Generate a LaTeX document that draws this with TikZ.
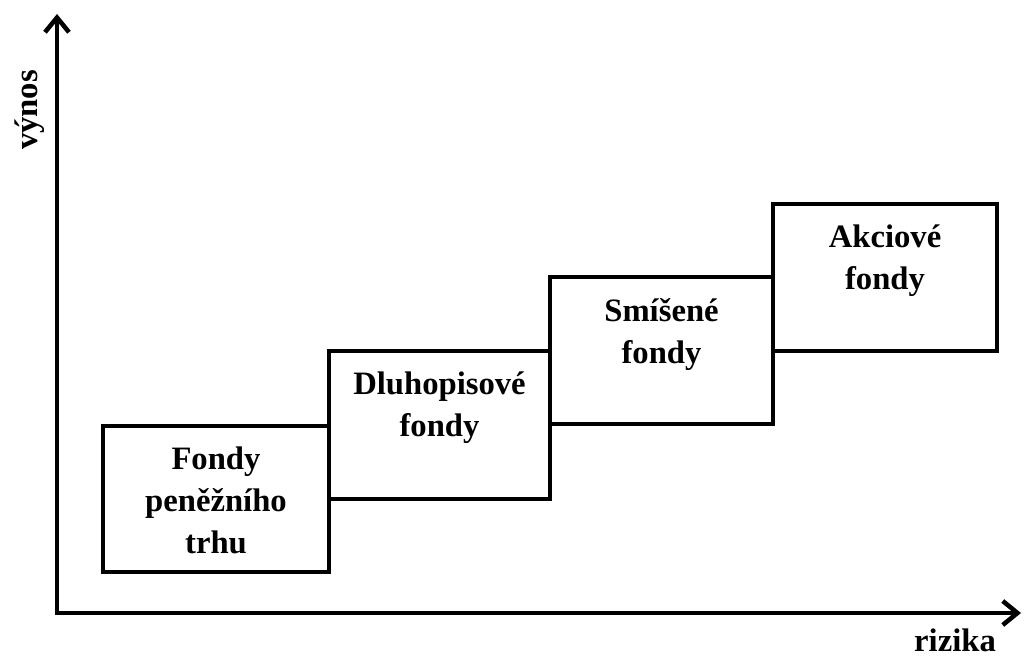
\documentclass[tikz,border=0pt]{standalone}
\usepackage{fontspec}
\setmainfont{Liberation Serif}
\usetikzlibrary{arrows.meta,calc}
\begin{document}
\begin{tikzpicture}[x=0.75pt,y=-0.75pt,
  fbox/.style={draw, line width=3.4pt, rectangle, inner sep=0pt, outer sep=0pt, fill=white},
  ftext/.style={font=\fontsize{24.5}{31.5}\selectfont\bfseries, align=center, inner sep=0pt, anchor=north},
  axis/.style={line width=3.4pt, -{Straight Barb[length=11pt,width=18pt]}},
  albl/.style={font=\fontsize{24.5}{30}\selectfont\bfseries, inner sep=0pt}]
\useasboundingbox (0,0) rectangle (1025,659);
% axes
\coordinate (o) at (57,613);
\coordinate (ytip) at (57,14);
\coordinate (xtip) at (1021,613);
\draw[axis] ($(o)+(0,1.7)$) -- (ytip);
\draw[axis] ($(o)+(-1.7,0)$) -- (xtip);
\node[albl, rotate=90] (ylab) at (30,110) {výnos};
\node[albl] (xlab) at (955,640) {rizika};
% boxes
\node[fbox, minimum width=169.5pt, minimum height=109.5pt] (b1) at (216,499) {};
\node[fbox, minimum width=165.75pt, minimum height=111pt] (b2) at (439.5,425) {};
\node[fbox, minimum width=167.25pt, minimum height=110.25pt] (b3) at (661.5,350.5) {};
\node[fbox, minimum width=168pt, minimum height=110.25pt] (b4) at (885,277.5) {};
% texts
\node[ftext] (t1) at ($(b1.north)+(0,21)$) {Fondy\\peněžního\\trhu};
\node[ftext] (t2) at ($(b2.north)+(0,21)$) {Dluhopisové\\fondy};
\node[ftext] (t3) at ($(b3.north)+(0,21)$) {Smíšené\\fondy};
\node[ftext] (t4) at ($(b4.north)+(0,21)$) {Akciové\\fondy};
\end{tikzpicture}
\end{document}
